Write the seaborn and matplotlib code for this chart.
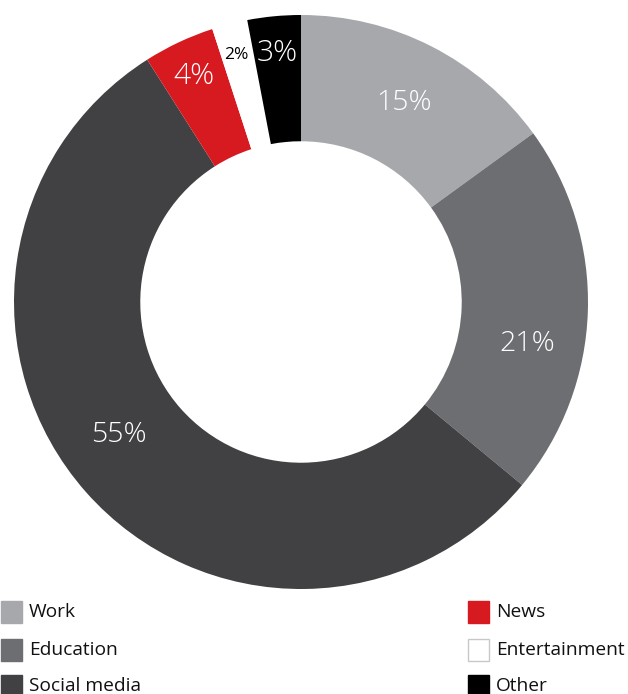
import numpy as np
import matplotlib
matplotlib.use("Agg")
import matplotlib.pyplot as plt
from matplotlib.patches import Rectangle
import seaborn as sns

categories = ["Work", "Education", "Social media", "News", "Entertainment", "Other"]
shares = [15, 21, 55, 4, 2, 3]
labels = ["15%", "21%", "55%", "4%", "2%", "3%"]
colors = ["#a7a8ab", "#6d6e71", "#414042", "#d71920", "#ffffff", "#000000"]
label_colors = ["white", "white", "white", "white", "black", "white"]
label_sizes = [20.5, 20.5, 20.5, 21.5, 12.5, 21.5]
label_weights = ["light", "light", "light", "light", "normal", "light"]
label_radius = [0.79, 0.80, 0.78, 0.88, 0.90, 0.88]
label_turn = [0, -8, -6, 0, 0, 0]  # degrees, nudges label off the wedge's mid-angle

sns.set_theme(style="white")
plt.rcParams["font.family"] = ["Open Sans", "DejaVu Sans"]

W, H = 628, 694
fig = plt.figure(figsize=(W / 100, H / 100), dpi=100)
cx, cy, R = 301, 302, 287
ax = fig.add_axes([(cx - R) / W, (H - cy - R) / H, 2 * R / W, 2 * R / H])

wedges, _ = ax.pie(shares, colors=colors, startangle=90, counterclock=False,
                   radius=1.0, wedgeprops=dict(width=0.44, linewidth=0))
ax.set_xlim(-1, 1)
ax.set_ylim(-1, 1)
ax.set_aspect("equal")
ax.axis("off")

# percentage labels around each wedge's mid-angle
total = sum(shares)
cum = 0
for val, lab, col, fs, fw, r, turn in zip(shares, labels, label_colors, label_sizes,
                                           label_weights, label_radius, label_turn):
    mid = 90 - (cum + val / 2) / total * 360 + turn
    cum += val
    a = np.deg2rad(mid)
    ax.text(r * np.cos(a), r * np.sin(a) - 0.01, lab, color=col, fontsize=fs,
            ha="center", va="center", fontweight=fw)

# legend in two columns along the bottom
sq = 22
rows = [612, 650, 686]
cols_x = [0, 467]
for i, (cat, c) in enumerate(zip(categories, colors)):
    col = i // 3
    row = i % 3
    x0 = cols_x[col]
    yc = rows[row]
    edge = "#c8c8c8" if c == "#ffffff" else c
    fig.add_artist(Rectangle(((x0 + 0.5) / W, (H - yc - sq / 2) / H), (sq - 1) / W, sq / H,
                             transform=fig.transFigure, facecolor=c, edgecolor=edge,
                             linewidth=1))
    fig.text((x0 + 29) / W, (H - yc) / H, cat, fontsize=13.8, color="#111111",
             ha="left", va="center")

fig.savefig("out.png", dpi=100, facecolor="white")
